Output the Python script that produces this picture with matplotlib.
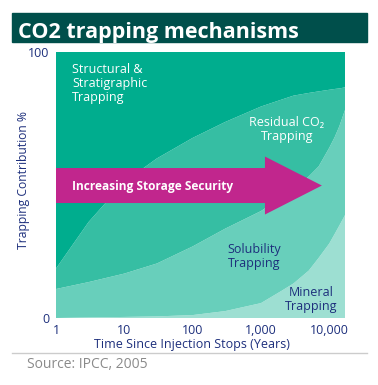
import matplotlib
matplotlib.use('Agg')
import matplotlib.pyplot as plt
from matplotlib.patches import FancyArrow, Rectangle
from matplotlib.lines import Line2D

plt.rcParams['font.family'] = ['Open Sans', 'DejaVu Sans']

# years since injection stops
years = [1, 3, 10, 30, 100, 300, 1000, 2000, 3000, 5000, 7000, 10000, 12000, 14000, 17000]
# share of each mechanism, %
mineral = [0, 0.2, 0.4, 0.6, 1.1, 2.6, 5.6, 10.2, 13.0, 17.8, 22.6, 28.0, 31.6, 34.7, 38.7]
solubility = [10.9, 13.3, 16.3, 19.9, 25.8, 31.0, 34.6, 35.2, 35.3, 35.4, 34.4, 36.0, 36.4, 37.3, 39.5]
residual = [7.7, 22.6, 34.5, 39.5, 40.8, 40.1, 39.3, 36.7, 35.3, 31.4, 28.2, 21.8, 18.1, 14.3, 8.5]
structural = [81.4, 63.9, 48.8, 40.0, 32.3, 26.3, 20.5, 17.9, 16.4, 15.4, 14.8, 14.2, 13.9, 13.7, 13.3]

xticks = [1, 10, 100, 1000, 10000]
xtick_labels = ['1', '10', '100', '1,000', '10,000']

navy = '#1d2f7c'
colors = ['#9ddfd2', '#68cfbb', '#36bea3', '#00ad8e']

fig = plt.figure(figsize=(3.78, 3.85), dpi=100)

# title banner
fig.patches.append(Rectangle((12 / 378, 1 - 42 / 385), 355 / 378, 29 / 385,
                             transform=fig.transFigure, color='#004f4b', zorder=0))
fig.text(18 / 378, 1 - 38 / 385, 'CO2 trapping mechanisms', color='white',
         fontsize=15.5, fontweight='bold', va='baseline', ha='left')

ax = fig.add_axes([56 / 378, 1 - 318 / 385, 289 / 378, 266 / 385])
ax.stackplot(years, mineral, solubility, residual, structural, colors=colors, lw=0)
ax.set_xscale('log')
ax.set_xlim(1, 17000)
ax.set_ylim(0, 100)
for s in ax.spines.values():
    s.set_visible(False)
ax.set_xticks(xticks)
ax.set_xticklabels(xtick_labels)
ax.minorticks_off()
ax.set_yticks([0, 100])
ax.tick_params(length=0, labelsize=9, labelcolor=navy)
ax.tick_params(axis='x', pad=4)
ax.tick_params(axis='y', pad=5)
ax.set_xlabel('Time Since Injection Stops (Years)', color=navy, fontsize=9,
              fontweight='medium')
ax.xaxis.set_label_coords(0.47, -0.075)
ax.set_ylabel('Trapping Contribution %', color=navy, fontsize=8.7,
              fontweight='medium')
ax.yaxis.set_label_coords(-0.09, 0.52)

# arrow
arr = FancyArrow(0, 0.498, 0.92, 0, width=0.1316, head_width=0.218,
                 head_length=0.197, length_includes_head=True,
                 transform=ax.transAxes, color='#c1268d', lw=0)
ax.add_patch(arr)
ax.text(0.055, 0.496, 'Increasing Storage Security', transform=ax.transAxes,
        color='white', fontsize=8.6, fontweight='bold', va='center', ha='left')

ax.text(0.055, 0.880, 'Structural &\nStratigraphic\nTrapping', transform=ax.transAxes,
        color='white', fontsize=9, va='center', ha='left', linespacing=1.1)
ax.text(0.799, 0.707, 'Residual CO\u2082\nTrapping', transform=ax.transAxes,
        color='white', fontsize=9, va='center', ha='center', linespacing=1.1)
ax.text(0.685, 0.231, 'Solubility\nTrapping', transform=ax.transAxes,
        color=navy, fontsize=9, va='center', ha='center', linespacing=1.1)
ax.text(0.882, 0.071, 'Mineral\nTrapping', transform=ax.transAxes,
        color=navy, fontsize=9, va='center', ha='center', linespacing=1.1)

# separator and source
fig.lines.append(Line2D([12 / 378, 367 / 378], [1 - 353 / 385] * 2,
                        transform=fig.transFigure, color='#cccccc', lw=1))
fig.text(27 / 378, 1 - 365 / 385, 'Source: IPCC, 2005', color='#8a8a8a',
         fontsize=10, va='center', ha='left')

fig.savefig('out.png', dpi=100)
